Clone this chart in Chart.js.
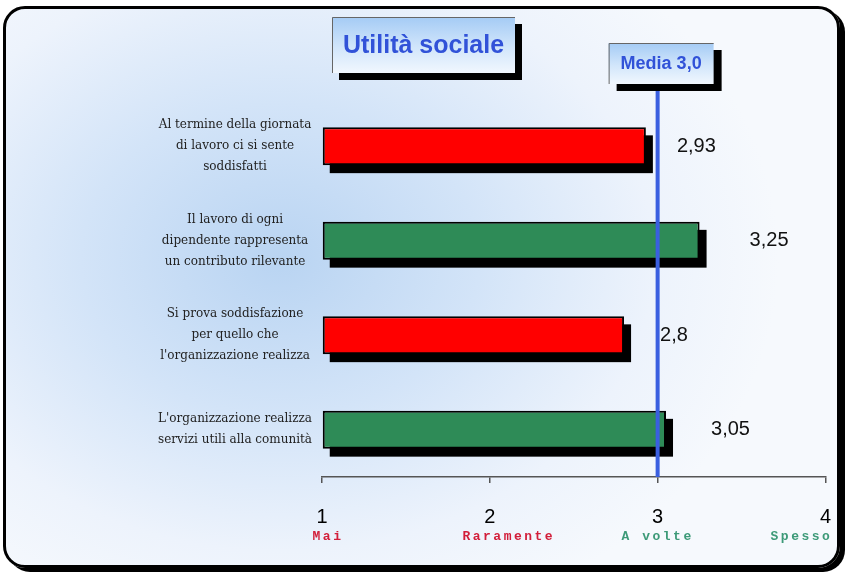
<!DOCTYPE html>
<html>
<head>
<meta charset="utf-8">
<title>Utilità sociale</title>
<script src="https://cdn.jsdelivr.net/npm/chart.js@4.4.0/dist/chart.umd.min.js"></script>
<style>
html, body { margin: 0; padding: 0; width: 853px; height: 576px; overflow: hidden; background: #fff; }
#frame {
  position: absolute; left: 3px; top: 6px; width: 837px; height: 562px;
  box-sizing: border-box; border: 3px solid #000; border-radius: 22px;
  box-shadow: 5px 4px 0 #000;
  background: radial-gradient(ellipse 60% 70% at 33% 45%, #b9d4f2 0%, #d3e4f8 40%, #edf3fc 75%, #f6f9fd 100%);
}
#chart { position: absolute; left: 0; top: 0; }
</style>
</head>
<body>
<div id="frame"></div>
<canvas id="chart" width="853" height="576"></canvas>
<script>
// Utilità sociale: punteggi medi (scala 1-4) con linea della media a 3,0

const CATEGORIES = [
  ["Al termine della giornata", "di lavoro ci si sente", "soddisfatti"],
  ["Il lavoro di ogni", "dipendente rappresenta", "un contributo rilevante"],
  ["Si prova soddisfazione", "per quello che", "l'organizzazione realizza"],
  ["L'organizzazione realizza", "servizi utili alla comunità"]
];
const SCORES = [2.93, 3.25, 2.8, 3.05];
const MEDIA = 3.0;
const X_TICKS = [1, 2, 3, 4];
const X_TICK_NAMES = ["Mai", "Raramente", "A volte", "Spesso"];

const RED = "#ff0000", GREEN = "#2e8b57";
const LABEL_GAP = [31, 50, 36, 45];      // distanza etichetta valore dalla fine barra
const NAME_SHIFT = [6, 19, 0, -24];      // spostamento scritte sotto i numeri

const fmt = v => String(v).replace(".", ",");

function drawBox(ctx, x, y, w, h, dx, dy, text, font) {
  ctx.save();
  ctx.fillStyle = "#000";
  ctx.fillRect(x + dx, y + dy, w, h);
  const g = ctx.createLinearGradient(0, y, 0, y + h);
  g.addColorStop(0, "#a4cbf5");
  g.addColorStop(0.55, "#d2e6fb");
  g.addColorStop(1, "#f1f7fe");
  ctx.fillStyle = g;
  ctx.fillRect(x, y, w, h);
  ctx.strokeStyle = "#666";
  ctx.lineWidth = 1;
  ctx.beginPath();
  ctx.moveTo(x + 0.5, y + h); ctx.lineTo(x + 0.5, y + 0.5); ctx.lineTo(x + w, y + 0.5);
  ctx.stroke();
  ctx.fillStyle = "#3152d8";
  ctx.font = font;
  ctx.textAlign = "center";
  ctx.textBaseline = "middle";
  ctx.fillText(text, x + w / 2, y + h / 2 + 1);
  ctx.restore();
}

const decorations = {
  id: "decorations",
  beforeDatasetsDraw(chart) {
    // ombre nere delle barre
    const ctx = chart.ctx;
    ctx.save();
    ctx.fillStyle = "#000";
    chart.getDatasetMeta(0).data.forEach(bar => {
      const p = bar.getProps(["x", "y", "base", "height"], true);
      ctx.fillRect(p.base + 7, p.y - p.height / 2 + 8, p.x - p.base, p.height);
    });
    ctx.restore();
  },
  afterDatasetsDraw(chart) {
    const ctx = chart.ctx;
    const xs = chart.scales.x;
    const area = chart.chartArea;
    const xm = xs.getPixelForValue(MEDIA);

    // linea media
    ctx.save();
    ctx.strokeStyle = "#3a5fe0";
    ctx.lineWidth = 4;
    ctx.beginPath();
    ctx.moveTo(xm, 84);
    ctx.lineTo(xm, area.bottom);
    ctx.stroke();

    // valori
    ctx.fillStyle = "#111";
    ctx.font = "20px 'Liberation Sans', Arial, sans-serif";
    ctx.textAlign = "left";
    ctx.textBaseline = "middle";
    chart.getDatasetMeta(0).data.forEach((bar, i) => {
      ctx.fillText(fmt(SCORES[i]), bar.x + LABEL_GAP[i], bar.y);
    });

    // nomi della scala
    ctx.font = "bold 13px 'Liberation Mono', 'Courier New', monospace";
    ctx.letterSpacing = "2.5px";
    ctx.textAlign = "center";
    X_TICKS.forEach((t, i) => {
      ctx.fillStyle = t >= MEDIA ? "#3d9a78" : "#d21e3a";
      ctx.fillText(X_TICK_NAMES[i], xs.getPixelForValue(t) + NAME_SHIFT[i], 537);
    });
    ctx.restore();

    drawBox(ctx, 332, 17, 183, 56, 7, 7, "Utilità sociale", "bold 25px 'Liberation Sans', Arial, sans-serif");
    drawBox(ctx, xm - 49, 43, 105, 41, 8, 7, "Media " + fmt(MEDIA.toFixed(1)), "bold 18px 'Liberation Sans', Arial, sans-serif");
  }
};

new Chart(document.getElementById("chart"), {
  type: "bar",
  data: {
    labels: CATEGORIES,
    datasets: [{
      data: SCORES,
      base: X_TICKS[0],
      backgroundColor: SCORES.map(v => v < MEDIA ? RED : GREEN),
      borderColor: "#000",
      borderWidth: 2,
      borderSkipped: false,
      barPercentage: 0.5,
      categoryPercentage: 0.8,
      clip: false
    }]
  },
  options: {
    indexAxis: "y",
    responsive: false,
    animation: false,
    devicePixelRatio: 1,
    layout: { padding: { top: 99, right: 26, bottom: 0, left: 10 } },
    plugins: { legend: { display: false }, tooltip: { enabled: false } },
    scales: {
      x: {
        type: "linear",
        min: X_TICKS[0],
        max: X_TICKS[X_TICKS.length - 1],
        ticks: {
          stepSize: 1,
          color: "#000",
          padding: 22,
          font: { family: "'Liberation Sans', Arial, sans-serif", size: 20 }
        },
        grid: { drawOnChartArea: false, drawTicks: true, tickLength: 6, color: "#555", lineWidth: 1.5 },
        border: { display: true, color: "#555", width: 1.5 },
        afterFit(s) { s.height = 99; }
      },
      y: {
        grid: { display: false, drawTicks: false },
        border: { display: false },
        ticks: {
          color: "#222",
          crossAlign: "center",
          padding: 10,
          font: { family: "'DejaVu Serif', 'Liberation Serif', serif", size: 12, lineHeight: 1.75 }
        },
        afterFit(s) { s.width = 312; }
      }
    }
  },
  plugins: [decorations]
});
</script>
</body>
</html>
